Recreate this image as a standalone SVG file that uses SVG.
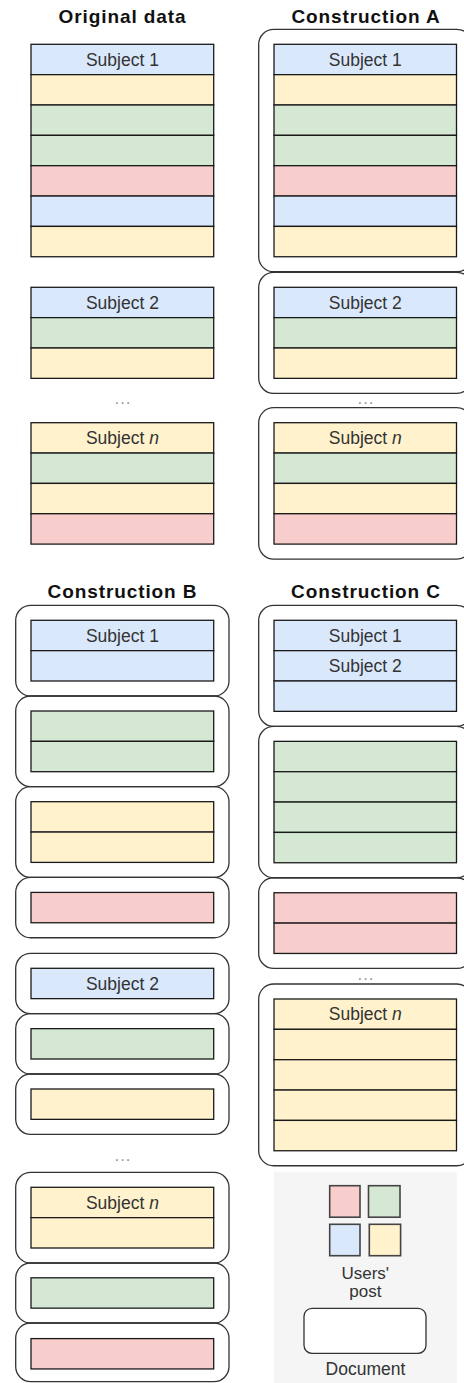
<svg xmlns="http://www.w3.org/2000/svg" width="464" height="1383" viewBox="0 0 464 1383">
<style>
.t{font-family:"Liberation Sans",Arial,sans-serif;font-weight:bold;font-size:19px;letter-spacing:0.9px;fill:#111;text-anchor:middle}
.s{font-family:"Liberation Sans",Arial,sans-serif;font-size:17.5px;fill:#333;text-anchor:middle}
.l{font-family:"Liberation Sans",Arial,sans-serif;font-size:17px;fill:#333;text-anchor:middle}
.d{font-family:"Liberation Sans",Arial,sans-serif;font-size:17px;fill:#999;text-anchor:middle;letter-spacing:1px}
.b{fill:#dae8fc;stroke:#1a1a1a;stroke-width:1.3}
.y{fill:#fff2cc;stroke:#1a1a1a;stroke-width:1.3}
.g{fill:#d5e8d4;stroke:#1a1a1a;stroke-width:1.3}
.r{fill:#f8cecc;stroke:#1a1a1a;stroke-width:1.3}
.c{fill:none;stroke:#333;stroke-width:1.3}
.lg{stroke:#444;stroke-width:1.6}
</style>
<rect width="464" height="1383" fill="#fff"/>

<g id="titles">
<text class="t" x="122.5" y="22.7">Original data</text>
<text class="t" x="366" y="22.7">Construction A</text>
<text class="t" x="122.5" y="598.3">Construction B</text>
<text class="t" x="366" y="598.3">Construction C</text>
</g>

<g id="original">
<g id="orig-1">
<rect class="b" x="31" y="44.3" width="182.7" height="30.35"/>
<rect class="y" x="31" y="74.65" width="182.7" height="30.35"/>
<rect class="g" x="31" y="105" width="182.7" height="30.35"/>
<rect class="g" x="31" y="135.35" width="182.7" height="30.35"/>
<rect class="r" x="31" y="165.7" width="182.7" height="30.35"/>
<rect class="b" x="31" y="196.05" width="182.7" height="30.35"/>
<rect class="y" x="31" y="226.4" width="182.7" height="30.35"/>
<text class="s" x="122.4" y="65.5">Subject 1</text>
</g>
<g id="orig-2">
<rect class="b" x="31" y="287.3" width="182.7" height="30.35"/>
<rect class="g" x="31" y="317.65" width="182.7" height="30.35"/>
<rect class="y" x="31" y="348" width="182.7" height="30.35"/>
<text class="s" x="122.4" y="308.5">Subject 2</text>
</g>
<text class="d" x="123" y="403.5">...</text>
<g id="orig-n">
<rect class="y" x="31" y="422.7" width="182.7" height="30.35"/>
<rect class="g" x="31" y="453.05" width="182.7" height="30.35"/>
<rect class="y" x="31" y="483.4" width="182.7" height="30.35"/>
<rect class="r" x="31" y="513.75" width="182.7" height="30.35"/>
<text class="s" x="122.4" y="443.9">Subject <tspan font-style="italic">n</tspan></text>
</g>
</g>

<g id="constructionA">
<g id="A-1">
<rect class="c" x="258.7" y="29.3" width="213.1" height="242.45" rx="15"/>
<rect class="b" x="274" y="44.3" width="182.5" height="30.35"/>
<rect class="y" x="274" y="74.65" width="182.5" height="30.35"/>
<rect class="g" x="274" y="105" width="182.5" height="30.35"/>
<rect class="g" x="274" y="135.35" width="182.5" height="30.35"/>
<rect class="r" x="274" y="165.7" width="182.5" height="30.35"/>
<rect class="b" x="274" y="196.05" width="182.5" height="30.35"/>
<rect class="y" x="274" y="226.4" width="182.5" height="30.35"/>
<text class="s" x="365.3" y="65.5">Subject 1</text>
</g>
<g id="A-2">
<rect class="c" x="258.7" y="272.3" width="213.1" height="121.05" rx="15"/>
<rect class="b" x="274" y="287.3" width="182.5" height="30.35"/>
<rect class="g" x="274" y="317.65" width="182.5" height="30.35"/>
<rect class="y" x="274" y="348" width="182.5" height="30.35"/>
<text class="s" x="365.3" y="308.5">Subject 2</text>
</g>
<text class="d" x="366" y="403.5">...</text>
<g id="A-n">
<rect class="c" x="258.7" y="407.7" width="213.1" height="151.4" rx="15"/>
<rect class="y" x="274" y="422.7" width="182.5" height="30.35"/>
<rect class="g" x="274" y="453.05" width="182.5" height="30.35"/>
<rect class="y" x="274" y="483.4" width="182.5" height="30.35"/>
<rect class="r" x="274" y="513.75" width="182.5" height="30.35"/>
<text class="s" x="365.3" y="443.9">Subject <tspan font-style="italic">n</tspan></text>
</g>
</g>

<g id="constructionB">
<g id="B-1">
<rect class="c" x="15.7" y="605.3" width="213.3" height="90.7" rx="15"/>
<rect class="b" x="31" y="620.3" width="182.7" height="30.35"/>
<rect class="b" x="31" y="650.65" width="182.7" height="30.35"/>
<text class="s" x="122.4" y="641.5">Subject 1</text>
</g>
<g id="B-2">
<rect class="c" x="15.7" y="696" width="213.3" height="90.7" rx="15"/>
<rect class="g" x="31" y="711" width="182.7" height="30.35"/>
<rect class="g" x="31" y="741.35" width="182.7" height="30.35"/>
</g>
<g id="B-3">
<rect class="c" x="15.7" y="786.7" width="213.3" height="90.7" rx="15"/>
<rect class="y" x="31" y="801.7" width="182.7" height="30.35"/>
<rect class="y" x="31" y="832.05" width="182.7" height="30.35"/>
</g>
<g id="B-4">
<rect class="c" x="15.7" y="877.4" width="213.3" height="60.35" rx="15"/>
<rect class="r" x="31" y="892.4" width="182.7" height="30.35"/>
</g>
<g id="B-5">
<rect class="c" x="15.7" y="953.3" width="213.3" height="60.35" rx="15"/>
<rect class="b" x="31" y="968.3" width="182.7" height="30.35"/>
<text class="s" x="122.4" y="989.5">Subject 2</text>
</g>
<g id="B-6">
<rect class="c" x="15.7" y="1013.65" width="213.3" height="60.35" rx="15"/>
<rect class="g" x="31" y="1028.65" width="182.7" height="30.35"/>
</g>
<g id="B-7">
<rect class="c" x="15.7" y="1074" width="213.3" height="60.35" rx="15"/>
<rect class="y" x="31" y="1089" width="182.7" height="30.35"/>
</g>
<text class="d" x="123" y="1161">...</text>
<g id="B-8">
<rect class="c" x="15.7" y="1172.3" width="213.3" height="90.7" rx="15"/>
<rect class="y" x="31" y="1187.3" width="182.7" height="30.35"/>
<rect class="y" x="31" y="1217.65" width="182.7" height="30.35"/>
<text class="s" x="122.4" y="1208.5">Subject <tspan font-style="italic">n</tspan></text>
</g>
<g id="B-9">
<rect class="c" x="15.7" y="1263" width="213.3" height="60" rx="15"/>
<rect class="g" x="31" y="1277.8" width="182.7" height="30.35"/>
</g>
<g id="B-10">
<rect class="c" x="15.7" y="1323" width="213.3" height="58.6" rx="15"/>
<rect class="r" x="31" y="1338.6" width="182.7" height="30.35"/>
</g>
</g>

<g id="constructionC">
<g id="C-1">
<rect class="c" x="258.7" y="605.3" width="213.1" height="121.05" rx="15"/>
<rect class="b" x="274" y="620.3" width="182.5" height="30.35"/>
<rect class="b" x="274" y="650.65" width="182.5" height="30.35"/>
<rect class="b" x="274" y="681" width="182.5" height="30.35"/>
<text class="s" x="365.3" y="641.5">Subject 1</text>
<text class="s" x="365.3" y="671.9">Subject 2</text>
</g>
<g id="C-2">
<rect class="c" x="258.7" y="726.35" width="213.1" height="151.4" rx="15"/>
<rect class="g" x="274" y="741.35" width="182.5" height="30.35"/>
<rect class="g" x="274" y="771.7" width="182.5" height="30.35"/>
<rect class="g" x="274" y="802.05" width="182.5" height="30.35"/>
<rect class="g" x="274" y="832.4" width="182.5" height="30.35"/>
</g>
<g id="C-3">
<rect class="c" x="258.7" y="877.75" width="213.1" height="90.7" rx="15"/>
<rect class="r" x="274" y="892.75" width="182.5" height="30.35"/>
<rect class="r" x="274" y="923.1" width="182.5" height="30.35"/>
</g>
<text class="d" x="366" y="979.5">...</text>
<g id="C-4">
<rect class="c" x="258.7" y="984" width="213.1" height="181.75" rx="15"/>
<rect class="y" x="274" y="999" width="182.5" height="30.35"/>
<rect class="y" x="274" y="1029.35" width="182.5" height="30.35"/>
<rect class="y" x="274" y="1059.7" width="182.5" height="30.35"/>
<rect class="y" x="274" y="1090.05" width="182.5" height="30.35"/>
<rect class="y" x="274" y="1120.4" width="182.5" height="30.35"/>
<text class="s" x="365.3" y="1020.2">Subject <tspan font-style="italic">n</tspan></text>
</g>
</g>

<g id="legend">
<rect x="274" y="1171.7" width="182.7" height="212" fill="#f4f5f4"/>
<g id="legend-posts">
<rect class="lg" x="329.7" y="1185.7" width="30.3" height="31.5" fill="#f8cecc"/>
<rect class="lg" x="368.5" y="1185.7" width="31.5" height="31.5" fill="#d5e8d4"/>
<rect class="lg" x="329.7" y="1224.3" width="30.3" height="31.4" fill="#dae8fc"/>
<rect class="lg" x="369.3" y="1224.3" width="31.3" height="31.4" fill="#fff2cc"/>
<text class="l" x="365.3" y="1279">Users'</text>
<text class="l" x="365.3" y="1296.5">post</text>
</g>
<g id="legend-document">
<rect x="304" y="1308.3" width="122" height="45" rx="8" fill="#fff" stroke="#333" stroke-width="1.3"/>
<text class="s" x="365.5" y="1375">Document</text>
</g>
</g>
</svg>
